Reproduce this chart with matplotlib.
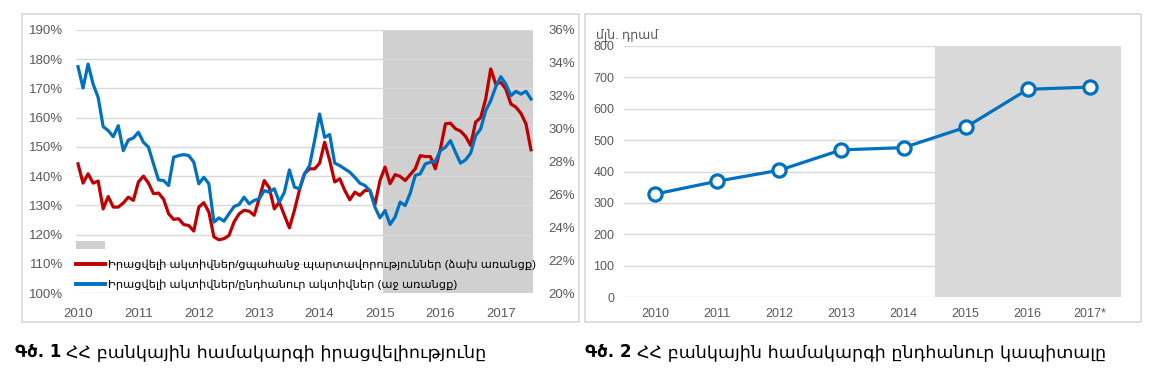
import matplotlib.pyplot as plt
from matplotlib.patches import Rectangle, Patch
from matplotlib.lines import Line2D
import numpy as np

# =============================================================================
# DATA
# =============================================================================

# Fig. 1 - monthly, Jan 2010 .. Jul 2017
year_labels_1 = ['2010', '2011', '2012', '2013', '2014', '2015', '2016', '2017']
liq_to_demand = [  # left axis, %
    144.2, 137.6, 140.8, 137.6, 138.3, 128.8, 133.0, 129.4, 129.4, 130.8,
    132.8, 131.7, 138.0, 140.0, 137.6, 134.0, 134.2, 132.1, 127.1, 125.2,
    125.4, 123.4, 123.1, 121.2, 129.4, 130.9, 127.7, 119.2, 118.2, 118.6,
    119.7, 124.3, 127.1, 128.3, 128.0, 126.6, 132.3, 138.5, 136.0, 128.8,
    131.1, 126.6, 122.3, 128.3, 135.3, 140.8, 142.5, 142.5, 144.4, 151.6,
    145.4, 138.0, 139.1, 135.1, 131.9, 134.5, 133.4, 135.1, 135.1, 130.3,
    138.5, 143.1, 137.4, 140.5, 139.9, 138.5, 140.5, 142.5, 147.0, 146.7,
    146.7, 142.5, 149.3, 157.9, 158.1, 156.2, 155.4, 153.6, 150.5, 158.5,
    160.0, 166.4, 176.7, 171.5, 172.1, 169.8, 164.7, 163.6, 161.5, 157.9,
    149.0,
]
liq_to_total = [  # right axis, %
    33.77, 32.47, 33.93, 32.71, 31.90, 30.12, 29.88, 29.51, 30.18, 28.66,
    29.31, 29.43, 29.78, 29.17, 28.87, 27.85, 26.88, 26.84, 26.54, 28.26,
    28.36, 28.42, 28.36, 27.96, 26.64, 27.04, 26.64, 24.31, 24.57, 24.37,
    24.82, 25.26, 25.38, 25.83, 25.43, 25.63, 25.73, 26.23, 26.13, 26.34,
    25.53, 26.13, 27.49, 26.44, 26.34, 27.25, 27.75, 29.27, 30.89, 29.47,
    29.64, 27.90, 27.75, 27.55, 27.35, 27.04, 26.68, 26.54, 26.23, 25.22,
    24.57, 25.02, 24.17, 24.62, 25.53, 25.32, 26.07, 27.15, 27.25, 27.85,
    27.96, 28.02, 28.66, 28.87, 29.27, 28.56, 27.90, 28.10, 28.50, 29.57,
    29.98, 31.09, 31.70, 32.55, 33.16, 32.71, 32.00, 32.27, 32.10, 32.27,
    31.80,
]
label_red = 'Իրացվելի ակտիվներ/ցպահանջ պարտավորություններ (ձախ առանցք)'
label_blue = 'Իրացվելի ակտիվներ/ընդհանուր ակտիվներ (աջ առանցք)'

# Fig. 2 - yearly total capital
year_labels_2 = ['2010', '2011', '2012', '2013', '2014', '2015', '2016', '2017*']
capital = [328, 369, 404, 469, 476, 541, 662, 669]

RED = '#c00000'
BLUE = '#0070c0'
TXT = '#595959'
GRID = '#d9d9d9'

plt.rcParams['font.family'] = ['Liberation Sans', 'DejaVu Sans']

W, H = 1162, 379
fig = plt.figure(figsize=(W / 100, H / 100), dpi=100)


def fx(px):
    return px / W


def fy(py):
    return 1 - py / H


# panel frames
for x0, x1 in [(22, 579), (585, 1141)]:
    fig.patches.append(Rectangle((fx(x0), fy(322)), fx(x1 - x0), (322 - 14) / H,
                                 transform=fig.transFigure, fill=False,
                                 edgecolor='#d9d9d9', linewidth=1.2))

# =============================================================================
# FIG 1
# =============================================================================
ax1 = fig.add_axes([fx(76), fy(293), fx(533 - 76), (293 - 30) / H])
ax2 = ax1.twinx()

months = np.arange(len(liq_to_demand))
ax1.axvspan(60.5, 91, color='#d0d0d0', zorder=0, linewidth=0)
ax1.plot(months, liq_to_demand, color=RED, linewidth=2.3, zorder=3)
ax2.plot(months, liq_to_total, color=BLUE, linewidth=2.3)

ax1.set_xlim(-0.4, 90.4)
ax1.set_ylim(100, 190)
ax2.set_ylim(20, 36)
ax1.set_yticks(np.arange(100, 191, 10))
ax1.set_yticklabels([f'{v}%' for v in range(100, 191, 10)])
ax2.set_yticks(np.arange(20, 37, 2))
ax2.set_yticklabels([f'{v}%' for v in range(20, 37, 2)])
ax1.set_xticks(np.arange(0, 85, 12))
ax1.set_xticklabels(year_labels_1)
ax1.grid(axis='y', color=GRID, linewidth=1)
ax1.set_axisbelow(True)
for a in (ax1, ax2):
    for s in a.spines.values():
        s.set_visible(False)
    a.tick_params(length=0, labelsize=9.5, colors=TXT)
ax1.tick_params(axis='y', pad=9)
ax2.tick_params(axis='y', pad=11)
ax1.tick_params(axis='x', pad=11)

handles = [Patch(facecolor='#d0d0d0', edgecolor='none'),
           Line2D([], [], color=RED, linewidth=2.8),
           Line2D([], [], color=BLUE, linewidth=2.8)]
ax2.legend(handles, ['', label_red, label_blue], loc='lower left',
           bbox_to_anchor=(-0.006, 0.0), frameon=False, fontsize=8.2,
           handlelength=2.5, handletextpad=0.3, labelspacing=0.78,
           borderaxespad=0, borderpad=0.25, labelcolor='#000000')

# =============================================================================
# FIG 2
# =============================================================================
ax3 = fig.add_axes([fx(624), fy(297), fx(1121 - 624), (297 - 46) / H])
xs = np.arange(len(capital))
ax3.axvspan(4.5, 7.5, color='#d9d9d9', zorder=0, linewidth=0)
ax3.plot(xs, capital, color=BLUE, linewidth=2.3, marker='o', markersize=9.5,
         markerfacecolor='white', markeredgecolor=BLUE, markeredgewidth=2.3,
         zorder=3)
ax3.set_xlim(-0.5, 7.5)
ax3.set_ylim(0, 800)
ax3.set_yticks(np.arange(0, 801, 100))
ax3.set_xticks(xs)
ax3.set_xticklabels(year_labels_2)
ax3.grid(axis='y', color=GRID, linewidth=1)
ax3.set_axisbelow(True)
for s in ax3.spines.values():
    s.set_visible(False)
ax3.tick_params(length=0, labelsize=9, colors=TXT)
ax3.tick_params(axis='y', pad=7)
ax3.tick_params(axis='x', pad=8)
fig.text(fx(596), fy(35), 'մլն. դրամ', fontsize=9, color=TXT, va='center')

# captions
fig.text(fx(15), fy(352), 'Գծ. 1', fontsize=12, fontweight='bold', va='center',
         family='DejaVu Sans')
fig.text(fx(66), fy(352), 'ՀՀ բանկային համակարգի իրացվելիությունը', fontsize=12.6,
         va='center', family='DejaVu Sans')
fig.text(fx(585), fy(352), 'Գծ. 2', fontsize=12, fontweight='bold', va='center',
         family='DejaVu Sans')
fig.text(fx(637), fy(352), 'ՀՀ բանկային համակարգի ընդհանուր կապիտալը', fontsize=12.6,
         va='center', family='DejaVu Sans')

fig.savefig('out.png', dpi=100)
